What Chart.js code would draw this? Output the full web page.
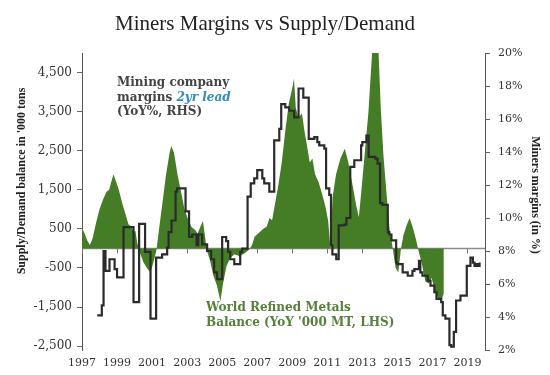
<!DOCTYPE html>
<html><head><meta charset="utf-8">
<script src="https://cdn.jsdelivr.net/npm/chart.js@4.4.1/dist/chart.umd.min.js"></script>
<style>html,body{margin:0;padding:0;background:#fff;}</style>
</head><body>
<canvas id="c" width="550" height="375"></canvas>
<script>
const chartTitle = 'Miners Margins vs Supply/Demand';
const leftAxisTitle = "Supply/Demand balance in '000 tons";
const rightAxisTitle = 'Miners margins (in %)';
const yearTicks = [1997,1999,2001,2003,2005,2007,2009,2011,2013,2015,2017,2019];
const balanceTicks = [-2500,-1500,-500,500,1500,2500,3500,4500];
const marginTicks = [2,4,6,8,10,12,14,16,18,20];

const balanceYears = [1997.00,1997.15,1997.30,1997.45,1997.60,1997.80,1998.00,1998.20,1998.40,1998.55,1998.70,1998.80,1998.95,1999.10,1999.30,1999.50,1999.65,1999.80,1999.95,2000.05,2000.15,2000.30,2000.50,2000.70,2000.90,2001.05,2001.25,2001.40,2001.60,2001.80,2002.00,2002.10,2002.25,2002.45,2002.65,2002.85,2003.05,2003.25,2003.45,2003.60,2003.75,2003.90,2004.00,2004.12,2004.30,2004.50,2004.70,2004.90,2005.05,2005.25,2005.45,2005.70,2006.00,2006.30,2006.55,2006.70,2006.85,2007.10,2007.35,2007.55,2007.70,2007.85,2008.00,2008.20,2008.40,2008.60,2008.80,2009.00,2009.10,2009.20,2009.35,2009.55,2009.70,2009.85,2010.00,2010.15,2010.30,2010.50,2010.70,2010.90,2011.05,2011.18,2011.30,2011.50,2011.75,2012.00,2012.20,2012.45,2012.65,2012.80,2012.95,2013.15,2013.35,2013.50,2013.60,2013.90,2014.05,2014.20,2014.40,2014.55,2014.70,2014.90,2015.05,2015.20,2015.35,2015.55,2015.70,2015.90,2016.05,2016.20,2016.40,2016.60,2016.80,2016.95,2017.15,2017.35,2017.50,2017.65];
const balanceValues = [520,380,200,90,250,650,1000,1250,1450,1500,1750,1900,1700,1500,1150,850,620,560,420,450,150,-100,-350,-500,-620,-400,-50,500,1200,1900,2450,2620,2450,1900,1450,1000,750,550,480,380,550,700,380,-50,-300,-700,-950,-1350,-900,-450,-250,-150,-200,-120,-30,80,300,400,500,560,780,720,1100,1600,2200,3000,3700,4100,4350,3600,3350,3450,3000,2600,2200,2300,1900,1700,1400,1050,700,0,1300,1900,2300,2550,2200,1600,1100,800,1500,2500,3500,4600,5300,5300,3600,2400,1300,500,100,-500,-620,-20,350,620,780,500,250,-50,-400,-850,-900,-750,-1100,-1300,-1350,-1150];

const marginYears = [1997.87,1998.13,1998.23,1998.34,1998.57,1998.86,1999.00,1999.37,1999.94,2000.26,2000.60,2000.91,2001.23,2001.57,2001.86,2001.94,2002.11,2002.34,2002.43,2002.91,2003.11,2003.29,2003.54,2003.63,2003.86,2004.14,2004.37,2004.54,2004.71,2005.00,2005.23,2005.34,2005.46,2005.69,2006.03,2006.14,2006.45,2006.63,2006.83,2007.00,2007.29,2007.40,2007.69,2007.97,2008.26,2008.37,2008.60,2008.83,2009.11,2009.36,2009.63,2009.94,2010.26,2010.43,2010.54,2010.83,2010.93,2011.11,2011.21,2011.29,2011.51,2011.65,2011.97,2012.09,2012.31,2012.54,2012.93,2013.00,2013.23,2013.36,2013.74,2013.87,2014.01,2014.14,2014.45,2014.54,2014.66,2014.93,2015.00,2015.30,2015.59,2015.86,2015.97,2016.23,2016.31,2016.43,2016.73,2016.89,2017.11,2017.23,2017.50,2017.59,2017.74,2017.97,2018.07,2018.22,2018.35,2018.60,2018.96,2019.17,2019.31,2019.40,2019.51,2019.63,2019.69];
const marginValues = [4.1,4.7,8.0,6.8,7.5,6.9,6.4,9.45,4.9,9.65,7.95,3.9,7.6,7.8,8.2,9.15,9.85,11.6,11.8,10.4,8.85,9.0,8.35,9.0,8.4,8.0,7.5,6.7,6.3,8.85,8.6,7.95,7.5,7.2,7.95,8.15,11.3,12.1,12.4,12.9,12.4,12.1,11.6,14.7,15.4,16.9,16.7,16.5,16.1,17.85,17.3,14.8,14.9,14.6,14.4,14.2,11.8,11.4,8.35,7.8,7.5,9.55,9.6,10.0,13.1,13.5,14.4,14.6,15.0,13.7,13.6,13.3,10.9,10.8,9.15,9.0,8.65,7.3,7.2,6.7,6.5,6.8,6.9,7.4,6.7,6.5,6.2,5.9,5.5,5.1,4.9,4.1,3.9,2.3,2.2,3.1,5.0,5.3,7.1,7.6,7.3,7.1,7.2,7.1,7.3];

const balancePoints = balanceYears.map((x, i) => ({x, y: balanceValues[i]}));
const marginPoints = marginYears.map((x, i) => ({x, y: marginValues[i]}));

const overlay = {
  id: 'overlay',
  beforeDatasetsDraw(chart) {
    const {ctx, chartArea: a, scales: {x, y}} = chart;
    const y0 = Math.round(y.getPixelForValue(0)) + 0.5;
    ctx.save();
    ctx.strokeStyle = '#8c8c8c'; ctx.lineWidth = 1.5;
    ctx.beginPath(); ctx.moveTo(a.left, y0); ctx.lineTo(a.right, y0); ctx.stroke();
    ctx.lineWidth = 1; ctx.strokeStyle = '#777';
    yearTicks.forEach(v => {
      const px = Math.round(x.getPixelForValue(v)) + 0.5;
      ctx.beginPath(); ctx.moveTo(px, y0); ctx.lineTo(px, y0 + 5); ctx.stroke();
    });
    ctx.restore();
  },
  afterDraw(chart) {
    const ctx = chart.ctx;
    ctx.save();
    ctx.fillStyle = '#222';
    ctx.font = '21px "Liberation Serif"';
    ctx.textAlign = 'center'; ctx.textBaseline = 'alphabetic';
    ctx.fillText(chartTitle, 265, 30);
    ctx.font = 'bold 12px "Liberation Serif"';
    ctx.textBaseline = 'middle';
    ctx.save(); ctx.translate(22, 181); ctx.rotate(-Math.PI / 2); ctx.fillText(leftAxisTitle, 0, 0); ctx.restore();
    ctx.save(); ctx.translate(535, 195); ctx.rotate(Math.PI / 2); ctx.fillText(rightAxisTitle, 0, 0); ctx.restore();
    ctx.textAlign = 'left'; ctx.textBaseline = 'alphabetic';
    ctx.font = 'bold 12px "DejaVu Serif"';
    ctx.fillStyle = '#444';
    ctx.fillText('Mining company', 117, 86);
    ctx.fillText('margins ', 117, 100.5);
    const w = ctx.measureText('margins ').width;
    ctx.font = 'italic bold 12px "DejaVu Serif"';
    ctx.fillStyle = '#2f8cc4';
    ctx.fillText('2yr lead', 117 + w, 100.5);
    ctx.font = 'bold 12px "DejaVu Serif"';
    ctx.fillStyle = '#444';
    ctx.fillText('(YoY%, RHS)', 117, 115);
    ctx.fillStyle = '#55803a';
    ctx.fillText('World Refined Metals', 206, 311);
    ctx.fillText("Balance (YoY '000 MT, LHS)", 206, 326);
    ctx.restore();
  }
};

const tickFont = {family: 'DejaVu Serif', size: 11};

new Chart(document.getElementById('c'), {
  type: 'line',
  data: {
    datasets: [
      {
        label: 'Mining company margins 2yr lead (YoY%, RHS)',
        data: marginPoints, yAxisID: 'y2', stepped: 'before',
        borderColor: '#2b2b2b', borderWidth: 2.2, pointRadius: 0, fill: false
      },
      {
        label: "World Refined Metals Balance (YoY '000 MT, LHS)",
        data: balancePoints, yAxisID: 'y',
        borderWidth: 0, borderColor: 'rgba(0,0,0,0)', backgroundColor: '#447d25',
        pointRadius: 0, fill: 'origin', tension: 0
      }
    ]
  },
  options: {
    responsive: false, animation: false,
    layout: {padding: {top: 53, left: 0, right: 0, bottom: 0}},
    plugins: {legend: {display: false}, tooltip: {enabled: false}, title: {display: false}},
    scales: {
      x: {
        type: 'linear', min: 1997, max: 2020, position: 'bottom',
        afterBuildTicks: s => { s.ticks = yearTicks.map(v => ({value: v})); },
        afterFit: s => { s.height = 25; },
        grid: {display: false, drawTicks: false}, border: {display: false},
        ticks: {autoSkip: false, maxRotation: 0, padding: 7, color: '#333', font: tickFont, callback: v => String(v)}
      },
      y: {
        position: 'left', min: -2600, max: 5000,
        afterBuildTicks: s => { s.ticks = balanceTicks.map(v => ({value: v})); },
        afterFit: s => { s.width = 82; },
        grid: {drawOnChartArea: false, drawTicks: true, tickLength: 5, color: '#666'},
        border: {display: true, color: '#555', width: 1},
        ticks: {padding: 5, color: '#333', font: {family: 'DejaVu Serif', size: 12}, callback: v => v.toLocaleString('en-US')}
      },
      y2: {
        position: 'right', min: 2, max: 20,
        afterBuildTicks: s => { s.ticks = marginTicks.map(v => ({value: v})); },
        afterFit: s => { s.width = 65; },
        grid: {drawOnChartArea: false, drawTicks: true, tickLength: 5, color: '#666'},
        border: {display: true, color: '#555', width: 1},
        ticks: {padding: 8, color: '#333', font: tickFont, callback: v => v + '%'}
      }
    }
  },
  plugins: [overlay]
});
</script>
</body></html>
